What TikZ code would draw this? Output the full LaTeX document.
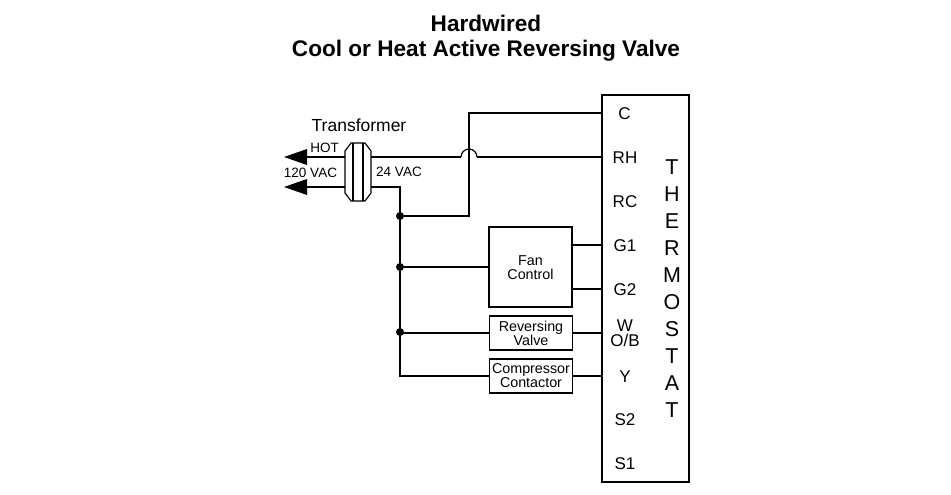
\documentclass[tikz,border=0pt]{standalone}
\usepackage{fontspec}
\setmainfont{Liberation Sans}
\usetikzlibrary{shapes.geometric}
\tikzset{
  wire/.style={line width=1.2pt,black},
  rhwire/.style={line width=2.1pt,black},
  boxn/.style={draw=black,line width=1.2pt,inner sep=0pt,align=center,font=\fontsize{14.3}{14}\selectfont},
  term/.style={inner sep=0pt,font=\fontsize{17}{17}\selectfont},
  lab/.style={inner sep=0pt,font=\fontsize{13.5}{14}\selectfont},
  dot/.style={circle,fill=black,inner sep=0pt,minimum size=8pt},
  arrowhead/.style={fill=black,draw=none}
}
\begin{document}
\begin{tikzpicture}[x=1pt,y=-1pt]
\useasboundingbox (0,0) rectangle (951,495);
\fill[white] (0,0) rectangle (951,495);
\node[inner sep=0pt,align=center,font=\bfseries\fontsize{22.6}{25}\selectfont] (title) at (486,38) {Hardwired\\Cool or Heat Active Reversing Valve};
% thermostat
\node[boxn,minimum width=87pt,minimum height=387pt] (tstat) at (645.5,288.5) {};
\node[inner sep=0pt,align=center,font=\fontsize{21.5}{27}\selectfont] (tname) at (672,288.5) {T\\H\\E\\R\\M\\O\\S\\T\\A\\T};
\node[term] (C) at (624.5,114) {C};
\node[term] (RH) at (625,158) {RH};
\node[term] (RC) at (625,202) {RC};
\node[term] (G1) at (625,245.5) {G1};
\node[term] (G2) at (625,289.5) {G2};
\node[term] (W) at (625,325.5) {W};
\node[term] (OB) at (625,340) {O/B};
\node[term] (Y) at (625,376.5) {Y};
\node[term] (S2) at (625,420) {S2};
\node[term] (S1) at (625,463.5) {S1};
% boxes
\node[boxn,minimum width=83pt,minimum height=80pt] (fan) at (530.5,267) {};
\node[inner sep=0pt,align=center,font=\fontsize{14.3}{14}\selectfont] (fantext) at (530.5,268) {Fan\\Control};
\node[boxn,minimum width=83.5pt,minimum height=34pt] (rev) at (531,333) {Reversing\\Valve};
\node[boxn,minimum width=83.5pt,minimum height=34pt] (comp) at (531,376) {Compressor\\Contactor};
% transformer
\draw[wire,line join=round] (345,151) -- (351,143) -- (365,143) -- (371,151) -- (371,193) -- (365,201) -- (351,201) -- (345,193) -- cycle;
\draw[wire] (353,143) -- (353,201) (363,143) -- (363,201);
\node[inner sep=0pt,font=\fontsize{17.5}{18}\selectfont] (xf) at (359,125) {Transformer};
\node[lab] (hot) at (324.5,148) {HOT};
\node[lab] (v120) at (310.5,172.5) {120 VAC};
\node[lab] (v24) at (399,172) {24 VAC};
% junctions
\coordinate (top) at (371,157);
\coordinate (bot) at (371,187);
\coordinate (hotend) at (307,157);
\coordinate (neuend) at (307,187);
\coordinate (bus0) at (400,187);
\node[dot] (j1) at (400,216) {};
\node[dot] (j2) at (400,267) {};
\node[dot] (j3) at (400,332) {};
\coordinate (bus1) at (400,376);
\coordinate (cup) at (469,216);
\coordinate (ctop) at (469,113);
\coordinate (cend) at (602,113);
\coordinate (rhend) at (602,157);
\coordinate (hopa) at (461,157);
\coordinate (hopb) at (477,157);
% source leads
\draw[rhwire] (345,157) -- (hotend);
\draw[wire] (345,187) -- (neuend);
\fill[arrowhead] (284,157) -- (307,149) -- (307,165) -- cycle;
\fill[arrowhead] (284,187) -- (307,179) -- (307,195) -- cycle;
% secondary
\draw[rhwire] (top) -- (hopa);
\draw[wire] (hopa) arc[start angle=180,end angle=0,radius=8pt];
\draw[rhwire] (hopb) -- (rhend);
\draw[wire] (bot) -- (bus0) -- (j1) -- (j2) -- (j3) -- (bus1) -- (comp.west);
\draw[wire] (j1) -- (cup) -- (ctop) -- (cend);
\draw[wire] (j2) -- (fan.west);
\draw[wire] (j3) -- (400,333) -- (rev.west);
\draw[wire] (572,245) -- (602,245);
\draw[wire] (572,289) -- (602,289);
\draw[wire] (rev.east) -- (602,333);
\draw[wire] (comp.east) -- (602,376);
\end{tikzpicture}
\end{document}
